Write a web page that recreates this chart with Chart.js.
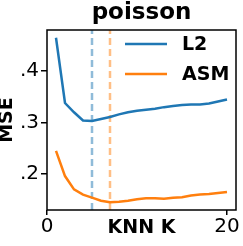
<!DOCTYPE html>
<html>
<head>
<meta charset="utf-8">
<script src="https://cdn.jsdelivr.net/npm/chart.js@4"></script>
<style>
  html, body { margin: 0; padding: 0; background: #fff; }
  #wrap { width: 243px; height: 246px; }
</style>
</head>
<body>
<div id="wrap"><canvas id="myChart" width="243" height="246"></canvas></div>
<script>
// values
const kValues = [1, 2, 3, 4, 5, 6, 7, 8, 9, 10, 11, 12, 13, 14, 15, 16, 17, 18, 19, 20];
const l2Mse = [0.465, 0.338, 0.320, 0.304, 0.303, 0.307, 0.311, 0.316, 0.320, 0.323,
  0.325, 0.327, 0.330, 0.332, 0.334, 0.335, 0.335, 0.337, 0.341, 0.345];
const asmMse = [0.245, 0.196, 0.170, 0.160, 0.154, 0.148, 0.145, 0.146, 0.148, 0.151,
  0.153, 0.153, 0.152, 0.154, 0.155, 0.158, 0.160, 0.161, 0.163, 0.165];
const bestK = { L2: 5, ASM: 7 };
const xTicks = [0, 20];
const yTicks = [0.2, 0.3, 0.4];
const xRange = [0, 21];
const yRange = [0.13, 0.48];
const chartTitle = "poisson";

const blue = "#1f77b4";
const orange = "#ff7f0e";
const FONT = "'DejaVu Sans'";

const pts = (ys) => kValues.map((k, i) => ({ x: k, y: ys[i] }));
const vline = (k) => [{ x: k, y: yRange[0] }, { x: k, y: yRange[1] }];

// box around the plot, title centred over the plot, legend inside top right
const frame = {
  id: "frame",
  afterDraw(chart) {
    const { ctx, chartArea: a } = chart;
    ctx.save();
    ctx.strokeStyle = "#000";
    ctx.lineWidth = 1.5;
    ctx.strokeRect(a.left, a.top, a.right - a.left, a.bottom - a.top);

    ctx.fillStyle = "#000";
    ctx.font = "bold 23px " + FONT;
    ctx.textAlign = "center";
    ctx.textBaseline = "alphabetic";
    ctx.fillText(chartTitle, (a.left + a.right) / 2, 19);

    const items = chart.data.datasets.filter(d => d.showInLegend);
    ctx.font = "bold 19px " + FONT;
    ctx.textAlign = "left";
    ctx.textBaseline = "middle";
    items.forEach((d, i) => {
      const y = a.top + 14 + i * 30;
      ctx.strokeStyle = d.borderColor;
      ctx.lineWidth = 2.5;
      ctx.beginPath();
      ctx.moveTo(a.left + 78, y);
      ctx.lineTo(a.left + 120, y);
      ctx.stroke();
      ctx.fillStyle = "#000";
      ctx.fillText(d.label, a.left + 135, y + 1);
    });
    ctx.restore();
  }
};

new Chart("myChart", {
  type: "line",
  data: {
    datasets: [
      { label: "L2", data: pts(l2Mse), borderColor: blue, borderWidth: 2.5, pointRadius: 0, showInLegend: true },
      { label: "ASM", data: pts(asmMse), borderColor: orange, borderWidth: 2.5, pointRadius: 0, showInLegend: true },
      { label: "L2 best", data: vline(bestK.L2), borderColor: "rgba(31,119,180,0.5)", borderWidth: 2.5, borderDash: [7, 4], pointRadius: 0 },
      { label: "ASM best", data: vline(bestK.ASM), borderColor: "rgba(255,127,14,0.5)", borderWidth: 2.5, borderDash: [7, 4], pointRadius: 0 }
    ]
  },
  options: {
    responsive: false,
    animation: false,
    layout: { padding: { left: 0, right: 7, top: 30, bottom: 0 } },
    plugins: {
      legend: { display: false },
      tooltip: { enabled: false },
      title: { display: false }
    },
    scales: {
      x: {
        type: "linear",
        min: xRange[0],
        max: xRange[1],
        afterBuildTicks: (s) => { s.ticks = xTicks.map(v => ({ value: v })); },
        afterFit: (s) => { s.height = 36; },
        ticks: { color: "#000", font: { family: FONT, size: 20 }, padding: 0, maxRotation: 0, autoSkip: false },
        grid: { display: true, drawOnChartArea: false, tickLength: 5, color: "#000", lineWidth: 1.5 },
        border: { display: false },
        title: { display: true, text: "KNN K", color: "#000", font: { family: FONT, size: 19, weight: "bold", lineHeight: 1 }, padding: { top: 0, bottom: 8 } }
      },
      y: {
        min: yRange[0],
        max: yRange[1],
        afterBuildTicks: (s) => { s.ticks = yTicks.map(v => ({ value: v })); },
        afterFit: (s) => { s.width = 47; },
        ticks: {
          color: "#000", font: { family: FONT, size: 20 }, padding: 2,
          callback: (v) => v.toFixed(1).replace(/^0/, "")
        },
        grid: { display: true, drawOnChartArea: false, tickLength: 6, color: "#000", lineWidth: 1.5 },
        border: { display: false },
        title: { display: true, text: "MSE", color: "#000", font: { family: FONT, size: 19, weight: "bold", lineHeight: 1 }, padding: { top: -2, bottom: 0 } }
      }
    }
  },
  plugins: [frame]
});
</script>
</body>
</html>
